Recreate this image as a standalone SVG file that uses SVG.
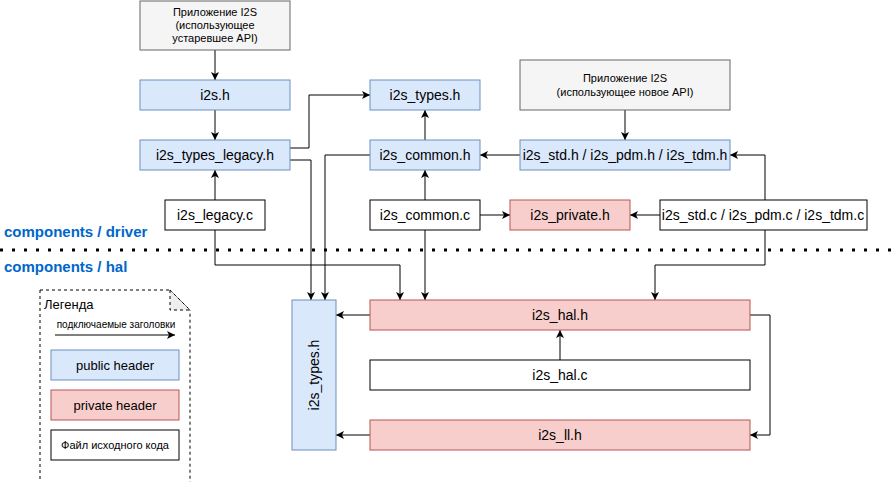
<svg xmlns="http://www.w3.org/2000/svg" width="893" height="482" viewBox="0 0 893 482">
<style>
text{font-family:"Liberation Sans",Arial,sans-serif;fill:#000;text-anchor:middle;dominant-baseline:central}
.pub{fill:#dae8fc;stroke:#6c8ebf}
.pri{fill:#f8cecc;stroke:#b85450}
.src{fill:#fff;stroke:#000}
.app{fill:#f5f5f5;stroke:#666}
.c{fill:none;stroke:#000;stroke-width:1;marker-end:url(#a)}
.lbl{fill:#0066cc;font-weight:bold;font-size:15px;text-anchor:start}
</style>
<defs><marker id="a" markerWidth="10" markerHeight="10" refX="8" refY="5" orient="auto" markerUnits="userSpaceOnUse"><path d="M0,1 L8,5 L0,9 L2,5 Z" fill="#000"/></marker></defs>
<rect width="893" height="482" fill="#fff"/>
<line x1="0" y1="250" x2="893" y2="250" stroke="#000" stroke-width="3" stroke-dasharray="3 9"/>
<text class="lbl" x="4" y="231">components / driver</text>
<text class="lbl" x="4" y="266">components / hal</text>
<g id="legend">
<path d="M40,290 H170 L190,310 V482 M40,290 V482" fill="none" stroke="#000" stroke-dasharray="3 3"/>
<path d="M170,290 V310 H190 Z" fill="#eee" stroke="#000" stroke-dasharray="3 3"/>
<text x="44" y="304" font-size="13" style="text-anchor:start">Легенда</text>
<text x="116" y="324" font-size="10">подключаемые заголовки</text>
<line class="c" x1="55" y1="335" x2="175" y2="335"/>
<rect class="pub" x="51" y="350" width="128" height="30"/><text x="115" y="365" font-size="13">public header</text>
<rect class="pri" x="51" y="390" width="128" height="30"/><text x="115" y="405" font-size="13">private header</text>
<rect class="src" x="51" y="430" width="128" height="30"/><text x="115" y="445" font-size="11">Файл исходного кода</text>
</g>
<g id="connectors">
<path class="c" d="M215,50 V80"/>
<path class="c" d="M215,110 V140"/>
<path class="c" d="M290,148 H309 V95 H370" stroke="#666"/>
<path class="c" d="M290,160 H311 V300"/>
<path class="c" d="M370,155 H325 V300"/>
<path class="c" d="M425,140 V110"/>
<path class="c" d="M215,200 V170"/>
<path class="c" d="M215,230 V265 H400 V300"/>
<path class="c" d="M425,200 V170"/>
<path class="c" d="M425,230 V300"/>
<path class="c" d="M480,215 H510"/>
<path class="c" d="M660,215 H630"/>
<path class="c" d="M520,155 H480"/>
<path class="c" d="M625,110 V140"/>
<path class="c" d="M765,200 V155 H730"/>
<path class="c" d="M765,230 V265 H655 V300"/>
<path class="c" d="M560,360 V330"/>
<path class="c" d="M370,315 H336"/>
<path class="c" d="M370,435 H336"/>
<path class="c" d="M750,315 H770 V435 H750"/>
</g>
<g id="app_legacy"><rect class="app" x="140" y="1" width="150" height="49"/><text x="215" y="12" font-size="11">Приложение I2S</text><text x="215" y="25" font-size="11">(использующее</text><text x="215" y="38" font-size="11">устаревшее API)</text></g>
<g id="i2s_h"><rect class="pub" x="140" y="80" width="150" height="30"/><text x="215" y="95" font-size="14">i2s.h</text></g>
<g id="types_legacy"><rect class="pub" x="140" y="140" width="150" height="30"/><text x="215" y="155" font-size="14">i2s_types_legacy.h</text></g>
<g id="legacy_c"><rect class="src" x="165" y="200" width="100" height="30"/><text x="215" y="215" font-size="14">i2s_legacy.c</text></g>
<g id="types_top"><rect class="pub" x="370" y="80" width="110" height="30"/><text x="425" y="95" font-size="14">i2s_types.h</text></g>
<g id="common_h"><rect class="pub" x="370" y="140" width="110" height="30"/><text x="425" y="155" font-size="14">i2s_common.h</text></g>
<g id="common_c"><rect class="src" x="370" y="200" width="110" height="30"/><text x="425" y="215" font-size="14">i2s_common.c</text></g>
<g id="private_h"><rect class="pri" x="510" y="200" width="120" height="30"/><text x="570" y="215" font-size="14">i2s_private.h</text></g>
<g id="app_new"><rect class="app" x="520" y="60" width="210" height="50"/><text x="625" y="78" font-size="11">Приложение I2S</text><text x="625" y="92" font-size="11">(использующее новое API)</text></g>
<g id="std_h"><rect class="pub" x="520" y="140" width="210" height="30"/><text x="625" y="155" font-size="14">i2s_std.h / i2s_pdm.h / i2s_tdm.h</text></g>
<g id="std_c"><rect class="src" x="660" y="200" width="207" height="30"/><text x="763" y="215" font-size="14">i2s_std.c / i2s_pdm.c / i2s_tdm.c</text></g>
<g id="types_v"><rect class="pub" x="292" y="300" width="44" height="150"/><text x="314" y="375" font-size="14" transform="rotate(-90 314 375)">i2s_types.h</text></g>
<g id="hal_h"><rect class="pri" x="370" y="300" width="380" height="30"/><text x="560" y="315" font-size="14">i2s_hal.h</text></g>
<g id="hal_c"><rect class="src" x="370" y="360" width="380" height="30"/><text x="560" y="375" font-size="14">i2s_hal.c</text></g>
<g id="ll_h"><rect class="pri" x="370" y="420" width="380" height="30"/><text x="560" y="435" font-size="14">i2s_ll.h</text></g>
</svg>
